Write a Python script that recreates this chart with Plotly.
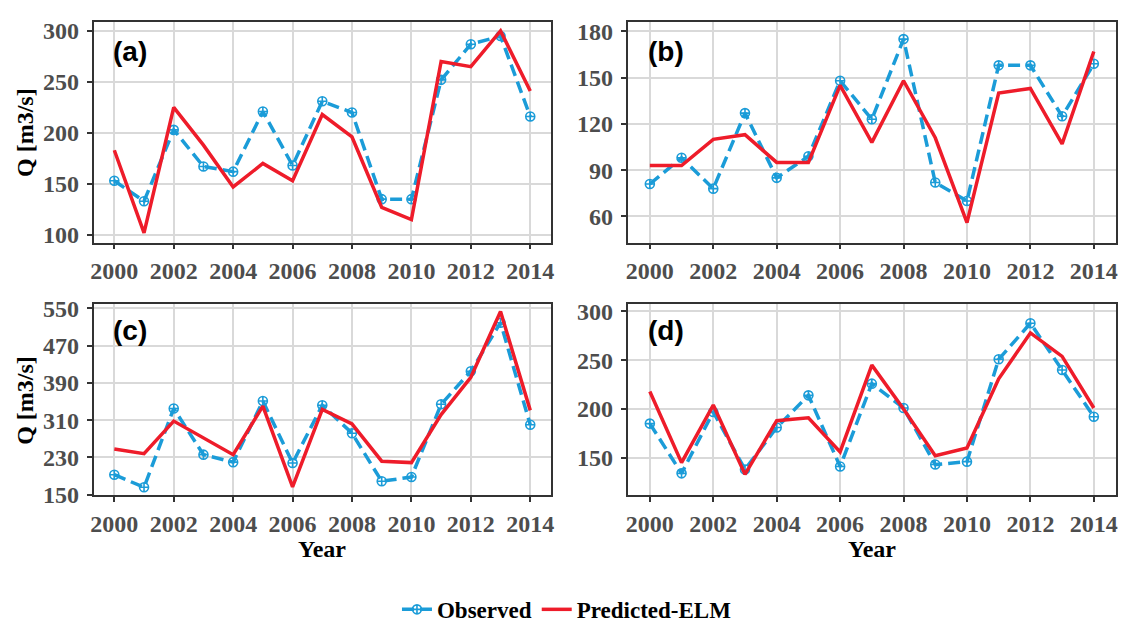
import plotly.graph_objects as go

years = list(range(2000, 2015))
x_ticks = [2000, 2002, 2004, 2006, 2008, 2010, 2012, 2014]

obs_a = [153, 133, 203, 167, 162, 221, 168, 231, 220, 135, 135, 252, 287, 295, 216]
pred_a = [183, 102, 225, 188, 147, 170, 153, 218, 196, 127, 115, 270, 265, 300, 241]
obs_b = [81, 98, 78, 127, 85, 99, 148, 123, 175, 82, 70, 158, 158, 125, 159]
pred_b = [93, 93, 110, 113, 95, 95, 145, 108, 148, 111, 56, 140, 143, 107, 167]
obs_c = [193, 166, 335, 236, 220, 351, 218, 342, 282, 179, 188, 344, 415, 519, 300]
pred_c = [248, 238, 308, 271, 236, 340, 167, 333, 302, 222, 219, 322, 402, 543, 331]
obs_d = [185, 134, 197, 138, 181, 214, 141, 226, 201, 143, 146, 251, 288, 240, 192]
pred_d = [218, 145, 204, 133, 188, 191, 156, 245, 200, 152, 160, 231, 278, 254, 201]

yticks_a = [100, 150, 200, 250, 300]
yticks_b = [60, 90, 120, 150, 180]
yticks_c = [150, 230, 310, 390, 470, 550]
yticks_d = [150, 200, 250, 300]

panel_labels = ["(a)", "(b)", "(c)", "(d)"]
series_names = ["Observed", "Predicted-ELM"]
y_title = "Q [m3/s]"
x_title = "Year"

BLUE = "#1b9cd8"
RED = "#ee1c2a"
W, H = 1123, 633

fig = go.Figure()
panels = [(obs_a, pred_a), (obs_b, pred_b), (obs_c, pred_c), (obs_d, pred_d)]
for i, (obs, pred) in enumerate(panels):
    sfx = "" if i == 0 else str(i + 1)
    fig.add_trace(go.Scatter(
        x=years, y=obs, name=series_names[0], mode="lines+markers",
        line=dict(color=BLUE, width=3.5, dash="12px,6px"),
        marker=dict(symbol="circle-cross-open", size=9, color=BLUE, line=dict(width=1.6, color=BLUE)),
        xaxis="x" + sfx, yaxis="y" + sfx, showlegend=(i == 0), legendgroup="obs"))
for i, (obs, pred) in enumerate(panels):
    sfx = "" if i == 0 else str(i + 1)
    fig.add_trace(go.Scatter(
        x=years, y=pred, name=series_names[1], mode="lines",
        line=dict(color=RED, width=3.5),
        xaxis="x" + sfx, yaxis="y" + sfx, showlegend=(i == 0), legendgroup="pred"))

def px_x(a, b):
    return [a / W, b / W]

def px_y(top, bottom):
    return [1 - bottom / H, 1 - top / H]

tickfont = dict(family="Liberation Serif", size=24, color="#4d4d4d", weight="bold")
common = dict(showline=True, linecolor="#333333", linewidth=1.5, mirror=True,
              showgrid=True, gridcolor="#d9d9d9", gridwidth=1.5, zeroline=False,
              ticks="outside", ticklen=5, tickwidth=1.5, tickcolor="#333333",
              tickfont=tickfont, ticklabeloverflow="allow")

xd_left = px_x(91, 551)
xd_right = px_x(628, 1119)
yd_top = px_y(13, 242)
yd_bot = px_y(306, 504)

xr = [1999.3, 2014.7]
layout_axes = {}
specs = [
    ("", xd_left, yd_top, [92.4, 309.2], yticks_a),
    ("2", xd_right, yd_top, [43, 186.4], yticks_b),
    ("3", xd_left, yd_bot, [148.5, 558.3], yticks_c),
    ("4", xd_right, yd_bot, [111.3, 307.3], yticks_d),
]
for sfx, xd, yd, yr, yt in specs:
    layout_axes["xaxis" + sfx] = dict(common, domain=xd, range=xr, tickvals=x_ticks,
                                      anchor="y" + sfx, ticklabelstandoff=1)
    layout_axes["yaxis" + sfx] = dict(common, domain=yd, range=yr, tickvals=yt,
                                      anchor="x" + sfx, ticklabelstandoff=3)

fig.update_layout(**layout_axes)

annotations = []
for i, (sfx, xd, yd, yr, yt) in enumerate(specs):
    annotations.append(dict(
        text=panel_labels[i], xref=("x" + sfx if sfx else "x") + " domain",
        yref=("y" + sfx if sfx else "y") + " domain", x=0.038, y=0.865,
        xanchor="left", yanchor="middle", showarrow=False,
        font=dict(family="Liberation Sans", size=28, color="black", weight="bold")))

for ycen in [127.5, 405]:
    annotations.append(dict(
        text=y_title, xref="paper", yref="paper", x=22 / W, y=1 - ycen / H,
        xanchor="center", yanchor="middle", textangle=-90, showarrow=False,
        font=dict(family="Liberation Serif", size=24, color="black", weight="bold")))
for xcen in [(91 + 551) / 2, (628 + 1119) / 2]:
    annotations.append(dict(
        text=x_title, xref="paper", yref="paper", x=xcen / W, y=1 - 559 / H,
        xanchor="center", yanchor="middle", showarrow=False,
        font=dict(family="Liberation Serif", size=24, color="black", weight="bold")))

fig.update_layout(
    width=W, height=H,
    margin=dict(l=0, r=0, t=0, b=0),
    paper_bgcolor="white", plot_bgcolor="white",
    annotations=annotations,
    legend=dict(orientation="h", x=567 / W, xanchor="center", y=1 - 622 / H, yanchor="middle",
                font=dict(family="Liberation Serif", size=23, color="black", weight="bold"),
                itemwidth=30, bgcolor="rgba(0,0,0,0)"),
)

fig.write_html("out.html",
               config={"displayModeBar": False},
               post_script="document.body.style.margin='0';document.body.style.padding='0';document.body.style.overflow='hidden';")
